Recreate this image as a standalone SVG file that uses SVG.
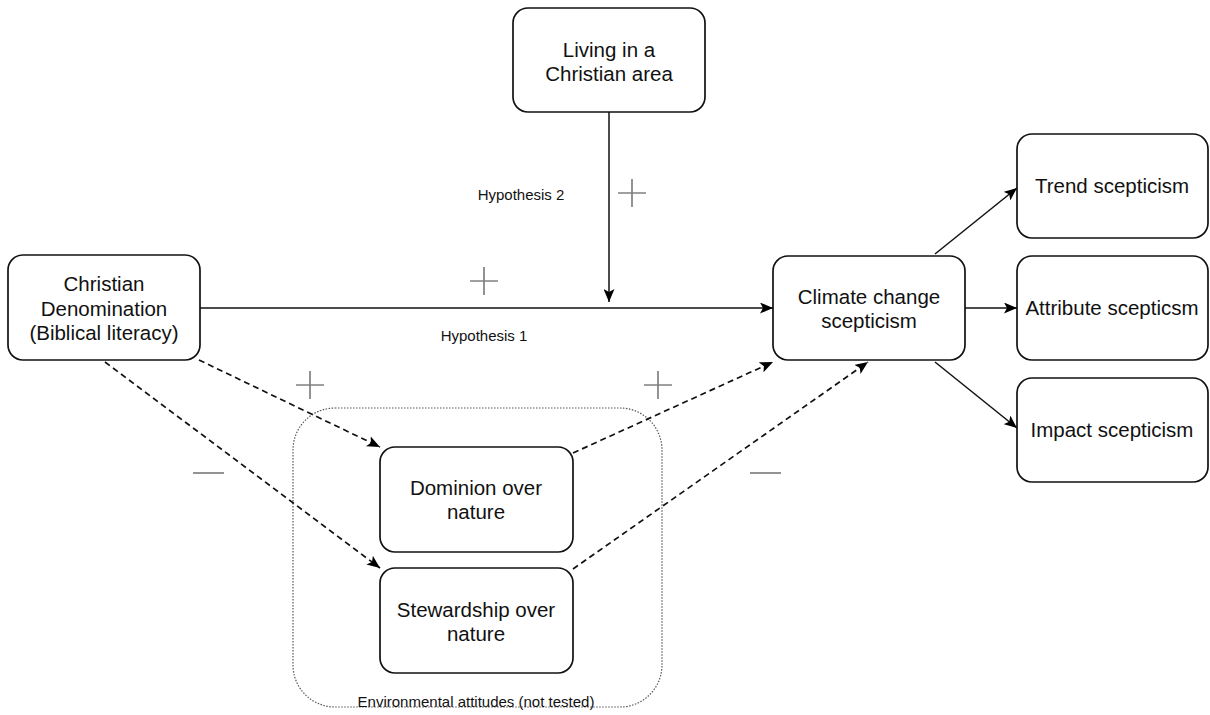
<svg xmlns="http://www.w3.org/2000/svg" width="1210" height="715" viewBox="0 0 1210 715">
<defs>
<style>
.box{fill:#fff;stroke:#111;stroke-width:1.7}
.t{font-family:"Liberation Sans",Arial,sans-serif;font-size:20.5px;fill:#111;text-anchor:middle}
.s{font-family:"Liberation Sans",Arial,sans-serif;font-size:15px;fill:#111;text-anchor:middle}
.ln{fill:none;stroke:#111;stroke-width:1.5}
.dash{fill:none;stroke:#111;stroke-width:1.7;stroke-dasharray:6 4}
.sign{fill:none;stroke:#808080;stroke-width:1.7}
</style>
<marker id="ah" viewBox="0 0 13 11" refX="13" refY="5.5" markerWidth="13" markerHeight="11" markerUnits="userSpaceOnUse" orient="auto">
<path d="M0,0 L13,5.5 L0,11 L3,5.5 Z" fill="#000"/>
</marker>
</defs>
<rect width="1210" height="715" fill="#fff"/>

<g id="group-env">
<rect x="293" y="408" width="369" height="299" rx="42" ry="42" fill="none" stroke="#555" stroke-width="1.2" stroke-dasharray="1.5 1.5"/>
<text class="s" x="476" y="707">Environmental attitudes (not tested)</text>
</g>

<g id="connectors">
<path class="ln" d="M200,308 L773,308" marker-end="url(#ah)"/>
<path class="ln" d="M609,112 L609,302" marker-end="url(#ah)"/>
<path class="ln" d="M935,254 L1017,188" marker-end="url(#ah)"/>
<path class="ln" d="M965,308 L1017,308" marker-end="url(#ah)"/>
<path class="ln" d="M935,362 L1017,428" marker-end="url(#ah)"/>
<path class="dash" d="M199,360 L380,447" marker-end="url(#ah)"/>
<path class="dash" d="M105,362 L380,568" marker-end="url(#ah)"/>
<path class="dash" d="M573,453 L773,362" marker-end="url(#ah)"/>
<path class="dash" d="M573,569 L868,362" marker-end="url(#ah)"/>
</g>

<g id="labels">
<text class="s" x="521" y="200">Hypothesis 2</text>
<text class="s" x="484" y="341">Hypothesis 1</text>
<path class="sign" d="M618,193 H646 M632,179 V207"/>
<path class="sign" d="M470,281 H498 M484,267 V295"/>
<path class="sign" d="M296,385 H324 M310,371 V399"/>
<path class="sign" d="M644,385 H672 M658,371 V399"/>
<path class="sign" d="M193,473 H224"/>
<path class="sign" d="M750,473 H781"/>
</g>

<g id="node-living">
<rect class="box" x="513" y="8" width="192" height="104" rx="15"/>
<text class="t" x="609" y="57">Living in a</text>
<text class="t" x="609" y="81">Christian area</text>
</g>

<g id="node-christian">
<rect class="box" x="8" y="255" width="192" height="105" rx="15"/>
<text class="t" x="104" y="291">Christian</text>
<text class="t" x="104" y="316">Denomination</text>
<text class="t" x="104" y="340">(Biblical literacy)</text>
</g>

<g id="node-climate">
<rect class="box" x="773" y="256" width="192" height="104" rx="15"/>
<text class="t" x="869" y="304">Climate change</text>
<text class="t" x="869" y="328">scepticism</text>
</g>

<g id="node-trend">
<rect class="box" x="1017" y="134" width="191" height="104" rx="15"/>
<text class="t" x="1112" y="193">Trend scepticism</text>
</g>

<g id="node-attribute">
<rect class="box" x="1017" y="256" width="191" height="104" rx="15"/>
<text class="t" x="1112" y="315">Attribute scepticsm</text>
</g>

<g id="node-impact">
<rect class="box" x="1017" y="378" width="191" height="104" rx="15"/>
<text class="t" x="1112" y="437">Impact scepticism</text>
</g>

<g id="node-dominion">
<rect class="box" x="380" y="447" width="193" height="105" rx="15"/>
<text class="t" x="476" y="495">Dominion over</text>
<text class="t" x="476" y="519">nature</text>
</g>

<g id="node-stewardship">
<rect class="box" x="380" y="568" width="193" height="105" rx="15"/>
<text class="t" x="476" y="617">Stewardship over</text>
<text class="t" x="476" y="641">nature</text>
</g>
</svg>
